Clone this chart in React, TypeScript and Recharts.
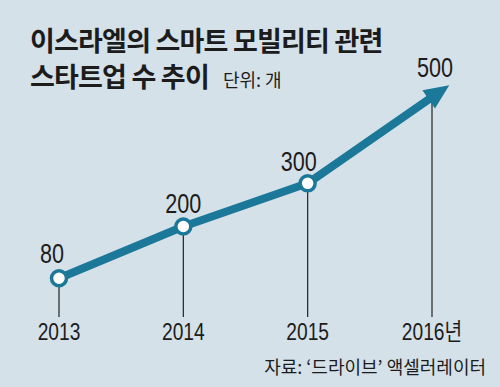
import React from 'react';
import { LineChart, Line, XAxis, YAxis, ReferenceLine, LabelList } from 'recharts';

// Data
const years = ['2013', '2014', '2015', '2016'];
const yearLabels = ['2013', '2014', '2015', '2016년'];
const startups = [80, 200, 300, 500];

const chartData = years.map((year, i) => ({ year, label: yearLabels[i], value: startups[i] }));

// Styles
const BG = '#d5e1e9';
const LINE_COLOR = '#1b7898';
const TEXT = '#1c1c1c';
const NUM_FONT = "'Liberation Sans', Arial, 'Noto Sans CJK KR', sans-serif";
const KR_FONT = "'Noto Sans CJK KR', sans-serif";
const NARROW = 0.8; // condensed digits
const LABEL_DX = [-7, 0, -9, 3];
const LABEL_DY = [-15, -13, -12, -20];

const YearTick = (props: any) => {
  const { x, y, index } = props;
  return (
    <text
      transform={`translate(${x},${y + 15}) scale(${NARROW},1)`}
      textAnchor="middle"
      fill={TEXT}
      fontSize={24}
      fontFamily={NUM_FONT}
    >
      {yearLabels[index]}
    </text>
  );
};

const PointDot = (props: any) => {
  const { cx, cy, index } = props;
  if (index === startups.length - 1) return <g key={`dot-${index}`} />;
  return (
    <circle key={`dot-${index}`} cx={cx} cy={cy} r={7.5} fill="#ffffff" stroke={LINE_COLOR} strokeWidth={3.5} />
  );
};

const ValueLabel = (props: any) => {
  const { x, y, value, index } = props;
  return (
    <text
      transform={`translate(${x + LABEL_DX[index]},${y + LABEL_DY[index]}) scale(${NARROW},1)`}
      textAnchor="middle"
      fill={TEXT}
      fontSize={27}
      fontFamily={NUM_FONT}
    >
      {value}
    </text>
  );
};

const App = () => {
  return (
    <div style={{ position: 'fixed', left: 0, top: 0, width: 500, height: 387, background: BG, overflow: 'hidden' }}>
      <div
        style={{
          position: 'absolute',
          left: 30,
          top: 22,
          fontFamily: KR_FONT,
          fontWeight: 700,
          fontSize: 27,
          lineHeight: '36px',
          letterSpacing: -0.8,
          color: TEXT,
          whiteSpace: 'nowrap',
        }}
      >
        <div>이스라엘의 스마트 모빌리티 관련</div>
        <div>
          스타트업 수 추이
          <span style={{ fontWeight: 400, fontSize: 18, letterSpacing: 0, marginLeft: 14 }}>단위: 개</span>
        </div>
      </div>
      <div
        style={{
          position: 'absolute',
          right: 14,
          top: 353,
          fontFamily: KR_FONT,
          fontSize: 18,
          color: TEXT,
          whiteSpace: 'nowrap',
        }}
      >
        자료: ‘드라이브’ 액셀러레이터
      </div>
      <LineChart
        width={500}
        height={387}
        data={chartData}
        margin={{ top: 54, right: 68, bottom: 40, left: 59 }}
        style={{ position: 'absolute', left: 0, top: 0 }}
      >
        <defs>
          <marker
            id="arrowHead"
            markerUnits="userSpaceOnUse"
            markerWidth={30}
            markerHeight={24}
            refX={4}
            refY={11}
            orient="auto"
            overflow="visible"
          >
            <path d="M0,0 L25,11 L0,22 Z" fill={LINE_COLOR} />
          </marker>
        </defs>
        <XAxis dataKey="year" axisLine={false} tickLine={false} interval={0} height={30} tick={<YearTick />} />
        <YAxis hide domain={[-10, 600]} />
        {chartData.map((d) => (
          <ReferenceLine
            key={d.year}
            segment={[
              { x: d.year, y: -10 },
              { x: d.year, y: d.value },
            ]}
            stroke="#222"
            strokeWidth={1.2}
          />
        ))}
        <Line
          type="linear"
          dataKey="value"
          stroke={LINE_COLOR}
          strokeWidth={8}
          strokeLinejoin="round"
          markerEnd="url(#arrowHead)"
          dot={<PointDot />}
          activeDot={false}
          isAnimationActive={false}
        >
          <LabelList dataKey="value" content={<ValueLabel />} />
        </Line>
      </LineChart>
    </div>
  );
};

export default App;
